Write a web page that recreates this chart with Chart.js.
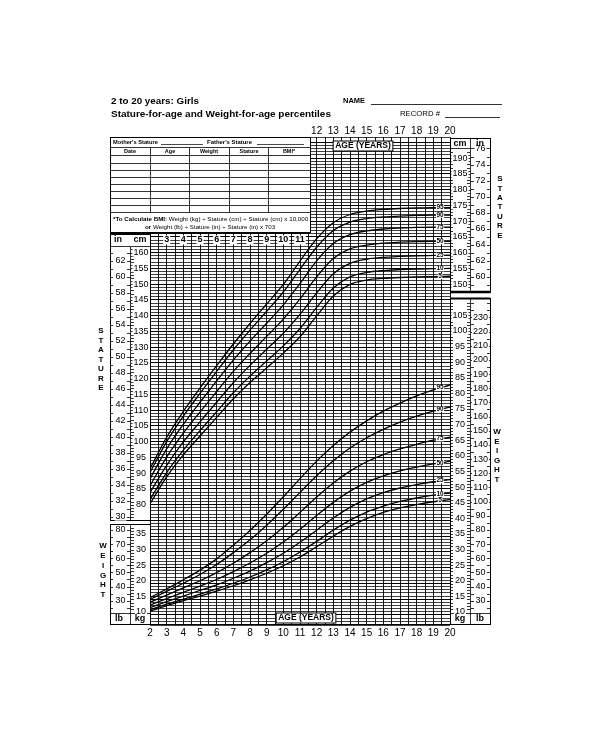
<!DOCTYPE html>
<html>
<head>
<meta charset="utf-8">
<title>2 to 20 years: Girls - Stature-for-age and Weight-for-age percentiles</title>
<script src="https://cdn.jsdelivr.net/npm/chart.js@4.4.1/dist/chart.umd.min.js"></script>
<style>
  html, body { margin: 0; padding: 0; background: #fff; }
  canvas { display: block; }
</style>
</head>
<body>
<canvas id="growthChart" width="600" height="730"></canvas>
<script>
const ages = [2, 3, 4, 5, 6, 7, 8, 9, 10, 11, 12, 13, 14, 15, 16, 17, 18, 19, 20];
const percentileLabels = ['5', '10', '25', '50', '75', '90', '95'];

// stature (cm)
const statureP5  = [80.3, 88.8, 95.8, 101.8, 107.7, 113.6, 118.8, 123.4, 128.1, 133.3, 139.9, 146.2, 149.9, 151.3, 151.8, 152.1, 152.3, 152.4, 152.5];
const statureP10 = [81.6, 90.2, 97.3, 103.5, 109.5, 115.5, 120.8, 125.6, 130.4, 135.9, 142.6, 148.8, 152.3, 153.7, 154.3, 154.6, 154.8, 154.9, 155.0];
const statureP25 = [83.8, 92.5, 99.9, 106.3, 112.5, 118.7, 124.2, 129.3, 134.4, 140.4, 147.2, 153.3, 156.6, 157.9, 158.5, 158.8, 159.0, 159.1, 159.2];
const statureP50 = [86.0, 95.1, 102.7, 109.4, 115.9, 122.3, 128.0, 133.4, 138.9, 145.3, 152.3, 158.1, 161.2, 162.4, 163.0, 163.3, 163.5, 163.6, 163.6];
const statureP75 = [88.2, 97.7, 105.5, 112.5, 119.3, 125.9, 131.9, 137.6, 143.4, 150.2, 157.4, 162.9, 165.7, 166.9, 167.5, 167.8, 168.0, 168.1, 168.1];
const statureP90 = [90.2, 100.0, 108.1, 115.3, 122.3, 129.1, 135.4, 141.4, 147.5, 154.7, 161.7, 167.0, 169.7, 170.8, 171.3, 171.6, 171.8, 171.9, 171.9];
const statureP95 = [91.4, 101.4, 109.6, 117.0, 124.1, 131.0, 137.5, 143.7, 149.9, 157.3, 164.4, 169.5, 172.1, 173.2, 173.7, 174.0, 174.2, 174.3, 174.3];

// weight (kg)
const weightP5  = [10.3, 12.0, 13.6, 15.1, 16.7, 18.4, 20.3, 22.4, 24.8, 27.6, 30.9, 34.3, 37.4, 39.9, 41.9, 43.3, 44.4, 45.3, 46.0];
const weightP10 = [10.7, 12.5, 14.1, 15.7, 17.4, 19.2, 21.2, 23.5, 26.1, 29.2, 32.6, 36.2, 39.4, 42.0, 43.9, 45.4, 46.5, 47.4, 48.1];
const weightP25 = [11.4, 13.3, 15.1, 16.9, 18.7, 20.8, 23.1, 25.8, 28.8, 32.3, 36.2, 40.1, 43.5, 46.2, 48.2, 49.7, 50.8, 51.7, 52.4];
const weightP50 = [12.2, 14.3, 16.3, 18.3, 20.4, 22.9, 25.7, 28.8, 32.4, 36.5, 40.9, 45.1, 48.7, 51.5, 53.6, 55.2, 56.4, 57.4, 58.2];
const weightP75 = [13.1, 15.4, 17.7, 20.0, 22.6, 25.6, 29.0, 32.8, 37.1, 41.9, 46.8, 51.3, 55.1, 58.1, 60.4, 62.2, 63.7, 65.0, 66.0];
const weightP90 = [14.0, 16.6, 19.2, 22.0, 25.2, 29.0, 33.1, 37.8, 42.9, 48.3, 53.6, 58.4, 62.5, 65.8, 68.5, 70.8, 72.7, 74.3, 75.6];
const weightP95 = [14.6, 17.4, 20.3, 23.4, 27.0, 31.4, 36.1, 41.3, 46.9, 52.7, 58.3, 63.3, 67.6, 71.2, 74.3, 76.9, 79.2, 81.1, 82.7];

// tick labels
const topAgeLabels = [12, 13, 14, 15, 16, 17, 18, 19, 20];
const innerAgeLabels = [3, 4, 5, 6, 7, 8, 9, 10, 11];
const leftStatureCm = [80, 85, 90, 95, 100, 105, 110, 115, 120, 125, 130, 135, 140, 145, 150, 155, 160];
const leftStatureIn = [30, 32, 34, 36, 38, 40, 42, 44, 46, 48, 50, 52, 54, 56, 58, 60, 62];
const leftWeightKg = [10, 15, 20, 25, 30, 35];
const leftWeightLb = [30, 40, 50, 60, 70, 80];
const rightStatureCm = [150, 155, 160, 165, 170, 175, 180, 185, 190];
const rightStatureIn = [60, 62, 64, 66, 68, 70, 72, 74, 76];
const rightWeightKg = [10, 15, 20, 25, 30, 35, 40, 45, 50, 55, 60, 65, 70, 75, 80, 85, 90, 95, 100, 105];
const rightWeightLb = [30, 40, 50, 60, 70, 80, 90, 100, 110, 120, 130, 140, 150, 160, 170, 180, 190, 200, 210, 220, 230];

const statureSeries = [statureP5, statureP10, statureP25, statureP50, statureP75, statureP90, statureP95];
const weightSeries = [weightP5, weightP10, weightP25, weightP50, weightP75, weightP90, weightP95];

const FONT = '"Liberation Sans", Arial, Helvetica, sans-serif';
const font = (size, bold) => (bold ? 'bold ' : '') + size + 'px ' + FONT;

function fitFont(ctx, s, bold, w) {
  ctx.font = font(10, bold);
  return font((10 * w / ctx.measureText(s).width).toFixed(2), bold);
}

function text(ctx, s, x, y, f, align) {
  ctx.font = f;
  ctx.textAlign = align || 'center';
  ctx.textBaseline = 'middle';
  ctx.fillStyle = '#000';
  ctx.fillText(s, x, y);
}

function boxedText(ctx, s, x, y, f, pad, h) {
  ctx.font = f;
  const w = ctx.measureText(s).width;
  ctx.fillStyle = '#fff';
  ctx.fillRect(x - w / 2 - pad, y - h / 2, w + 2 * pad, h);
  text(ctx, s, x, y, f);
}

function hline(ctx, x0, x1, y, lw) {
  ctx.lineWidth = lw;
  ctx.beginPath();
  ctx.moveTo(x0, y);
  ctx.lineTo(x1, y);
  ctx.stroke();
}

function vline(ctx, x, y0, y1, lw) {
  ctx.lineWidth = lw;
  ctx.beginPath();
  ctx.moveTo(x, y0);
  ctx.lineTo(x, y1);
  ctx.stroke();
}

function dashes(ctx, scale, from, to, step, x0, x1, yTop, yBot) {
  ctx.lineWidth = 0.8;
  ctx.beginPath();
  for (let v = from; v <= to; v += step) {
    const y = Math.round(scale.getPixelForValue(v)) + 0.5;
    if (y < yTop || y > yBot) continue;
    ctx.moveTo(x0, y);
    ctx.lineTo(x1, y);
  }
  ctx.stroke();
}

function scaleLabels(ctx, scale, vals, x, f) {
  vals.forEach(v => boxedText(ctx, String(v), x, scale.getPixelForValue(v), f, 1, 8));
}

function column(ctx, x0, x1, y0, y1) {
  ctx.fillStyle = '#fff';
  ctx.fillRect(x0, y0, x1 - x0, y1 - y0);
  ctx.lineWidth = 1;
  ctx.strokeRect(x0 + 0.5, y0 + 0.5, x1 - x0, y1 - y0);
}

function verticalWord(ctx, word, x, y0, step) {
  [...word].forEach((c, i) => text(ctx, c, x, y0 + i * step, font(8, true)));
}

const decor = {
  id: 'decor',
  beforeDraw(chart) {
    const ctx = chart.ctx;
    ctx.save();
    ctx.fillStyle = '#fff';
    ctx.fillRect(0, 0, chart.width, chart.height);
    ctx.restore();
  },
  afterDatasetsDraw(chart) {
    const ctx = chart.ctx;
    const sx = chart.scales.x, cm = chart.scales.yCm, kg = chart.scales.yKg;
    const inch = chart.scales.yIn, lb = chart.scales.yLb;
    ctx.save();
    ctx.strokeStyle = '#000';
    ctx.fillStyle = '#000';

    // percentile labels at the right end of the curves
    const lx = sx.getPixelForValue(19.4);
    statureSeries.forEach((s, i) => boxedText(ctx, percentileLabels[i], lx, cm.getPixelForValue((s[17] + s[18]) / 2), font(6.5, true), 0.5, 5.5));
    weightSeries.forEach((s, i) => boxedText(ctx, percentileLabels[i], lx, kg.getPixelForValue((s[17] + s[18]) / 2), font(6.5, true), 0.5, 5.5));

    // titles
    text(ctx, '2 to 20 years: Girls', 111, 101, fitFont(ctx, '2 to 20 years: Girls', true, 88), 'left');
    const t2 = 'Stature-for-age and Weight-for-age percentiles';
    text(ctx, t2, 111, 114, fitFont(ctx, t2, true, 220), 'left');
    text(ctx, 'NAME', 343, 101, fitFont(ctx, 'NAME', true, 22), 'left');
    hline(ctx, 371, 502, 104.5, 0.8);
    text(ctx, 'RECORD #', 400, 114, fitFont(ctx, 'RECORD #', false, 40), 'left');
    hline(ctx, 445, 500, 117.5, 0.8);

    // record table
    const tx0 = 110, tx1 = 310, ty0 = 137, ty1 = 232;
    ctx.fillStyle = '#fff';
    ctx.fillRect(tx0, ty0, tx1 - tx0, ty1 - ty0);
    ctx.lineWidth = 1;
    ctx.strokeRect(tx0 + 0.5, ty0 + 0.5, tx1 - tx0, ty1 - ty0);
    text(ctx, "Mother's Stature", 113, 142.5, fitFont(ctx, "Mother's Stature", true, 45), 'left');
    hline(ctx, 161, 203, 144.5, 0.7);
    text(ctx, "Father's Stature", 207, 142.5, fitFont(ctx, "Father's Stature", true, 45), 'left');
    hline(ctx, 257, 304, 144.5, 0.7);
    hline(ctx, tx0, tx1, 147.5, 0.8);
    const rowLines = [155.5, 163.5, 170.5, 177.5, 184.5, 191.5, 198.5, 205.5, 212.5];
    rowLines.forEach(y => hline(ctx, tx0, tx1, y, 0.8));
    [150.5, 189.5, 229.5, 268.5].forEach(x => vline(ctx, x, 147.5, 212.5, 0.8));
    const heads = [['Date', 130], ['Age', 170], ['Weight', 209], ['Stature', 249], ['BMI*', 289]];
    heads.forEach(([h, x]) => text(ctx, h, x, 151.5, font(5.5, true)));
    const n1a = '*To Calculate BMI:', n1b = ' Weight (kg) \u00f7 Stature (cm) \u00f7 Stature (cm) x 10,000';
    ctx.font = font(5.6, true); const w1a = ctx.measureText(n1a).width;
    ctx.font = font(5.6, false); const w1b = ctx.measureText(n1b).width;
    const s1 = 195 / (w1a + w1b);
    const nf1 = font((5.6 * s1).toFixed(2), false), nfb1 = font((5.6 * s1).toFixed(2), true);
    text(ctx, n1a, 113, 219.5, nfb1, 'left');
    text(ctx, n1b, 113 + w1a * s1, 219.5, nf1, 'left');
    text(ctx, 'or', 145, 227, nfb1, 'left');
    ctx.font = nfb1;
    text(ctx, ' Weight (lb) \u00f7 Stature (in) \u00f7 Stature (in) x 703', 145 + ctx.measureText('or').width, 227, nf1, 'left');

    // inner age row under the table
    hline(ctx, 110, 310, 233.5, 1.2);
    innerAgeLabels.forEach(a => boxedText(ctx, String(a), sx.getPixelForValue(a), 240, font(9, true), 1, 9));

    // left stature column
    column(ctx, 110, 150, 234, 520);
    vline(ctx, 130.5, 247, 520, 0.8);
    hline(ctx, 110, 150, 246.5, 0.8);
    text(ctx, 'in', 118, 240, font(9, true));
    text(ctx, 'cm', 140, 240, font(9, true));
    dashes(ctx, cm, 76, 165, 1, 131, 134, 248, 518);
    dashes(ctx, inch, 30, 64, 1, 110, 113, 248, 518);
    dashes(ctx, inch, 30, 64, 1, 127, 131, 248, 518);
    scaleLabels(ctx, inch, leftStatureIn, 120.5, font(9, false));
    scaleLabels(ctx, cm, leftStatureCm, 141, font(9, false));

    // left weight column
    column(ctx, 110, 150, 524, 624);
    vline(ctx, 130.5, 524, 624, 0.8);
    hline(ctx, 110, 150, 613.5, 0.8);
    dashes(ctx, kg, 8, 38, 1, 131, 134, 526, 612);
    dashes(ctx, lb, 20, 85, 5, 110, 113, 526, 612);
    dashes(ctx, lb, 20, 85, 5, 127, 131, 526, 612);
    scaleLabels(ctx, lb, leftWeightLb, 120.5, font(9, false));
    scaleLabels(ctx, kg, leftWeightKg, 141, font(9, false));
    text(ctx, 'lb', 119, 619, font(9, true));
    text(ctx, 'kg', 140, 619, font(9, true));

    // right stature column
    column(ctx, 450, 490, 138, 292);
    vline(ctx, 470.5, 138, 292, 0.8);
    hline(ctx, 450, 490, 148.5, 0.8);
    hline(ctx, 450, 490, 292, 2.5);
    dashes(ctx, cm, 148, 196, 1, 450, 453, 150, 290);
    dashes(ctx, cm, 148, 196, 1, 467, 470, 150, 290);
    dashes(ctx, inch, 58, 77, 1, 471, 474, 150, 290);
    dashes(ctx, inch, 58, 77, 1, 487, 490, 150, 290);
    scaleLabels(ctx, cm, rightStatureCm, 460, font(9, false));
    scaleLabels(ctx, inch, rightStatureIn, 480.5, font(9, false));
    text(ctx, 'cm', 460, 143.5, font(9, true));
    text(ctx, 'in', 480, 143.5, font(9, true));

    // right weight column
    column(ctx, 450, 490, 298, 624);
    hline(ctx, 450, 490, 298.5, 2);
    vline(ctx, 470.5, 298, 624, 0.8);
    hline(ctx, 450, 490, 613.5, 0.8);
    dashes(ctx, kg, 8, 110, 1, 450, 453, 302, 612);
    dashes(ctx, kg, 8, 110, 1, 467, 470, 302, 612);
    dashes(ctx, lb, 20, 240, 5, 471, 474, 302, 612);
    dashes(ctx, lb, 20, 240, 5, 487, 490, 302, 612);
    scaleLabels(ctx, kg, rightWeightKg, 460, font(9, false));
    scaleLabels(ctx, lb, rightWeightLb, 480.5, font(9, false));
    text(ctx, 'kg', 460, 619, font(9, true));
    text(ctx, 'lb', 480, 619, font(9, true));

    // AGE (YEARS) boxes
    [[363, 146], [306, 618]].forEach(([x, y]) => {
      ctx.font = font(8.5, true);
      const w = ctx.measureText('AGE (YEARS)').width;
      ctx.fillStyle = '#fff';
      ctx.fillRect(x - w / 2 - 2, y - 5, w + 4, 10);
      ctx.lineWidth = 1;
      ctx.strokeRect(x - w / 2 - 2, y - 5, w + 4, 10);
      text(ctx, 'AGE (YEARS)', x, y, font(8.5, true));
    });

    // outer bottom border
    hline(ctx, 110, 490, 624.5, 1);

    // vertical axis words
    verticalWord(ctx, 'STATURE', 500, 179, 9.4);
    verticalWord(ctx, 'STATURE', 101, 331, 9.5);
    verticalWord(ctx, 'WEIGHT', 497, 432, 9.5);
    verticalWord(ctx, 'WEIGHT', 103, 546, 9.8);

    ctx.restore();
  }
};

const toPoints = vals => ages.map((a, i) => ({ x: a, y: vals[i] }));
const curveStyle = { borderColor: '#000', borderWidth: 1.3, pointRadius: 0, fill: false, cubicInterpolationMode: 'monotone' };

const growthChart = new Chart(document.getElementById('growthChart'), {
  type: 'line',
  data: {
    datasets: [
      ...statureSeries.map((s, i) => ({ label: 'Stature ' + percentileLabels[i], data: toPoints(s), yAxisID: 'yCm', ...curveStyle })),
      ...weightSeries.map((s, i) => ({ label: 'Weight ' + percentileLabels[i], data: toPoints(s), yAxisID: 'yKg', ...curveStyle }))
    ]
  },
  options: {
    responsive: false,
    animation: false,
    devicePixelRatio: 1,
    layout: { padding: { left: 150, right: 150, top: 124, bottom: 91 } },
    plugins: { legend: { display: false }, tooltip: { enabled: false } },
    scales: {
      x: {
        type: 'linear', position: 'bottom', min: 2, max: 20,
        afterFit: s => { s.height = 14; },
        border: { display: false },
        grid: { color: '#000', lineWidth: 0.9, drawTicks: false },
        ticks: {
          stepSize: 0.5, autoSkip: false, maxRotation: 0, padding: 2, color: '#000',
          font: { family: FONT, size: 10 },
          callback: v => Number.isInteger(v) ? String(v) : ''
        }
      },
      xTop: {
        type: 'linear', position: 'top', min: 2, max: 20,
        afterFit: s => { s.height = 13; },
        border: { display: false },
        grid: { display: false, drawTicks: false },
        ticks: {
          stepSize: 1, autoSkip: false, maxRotation: 0, padding: 0, color: '#000',
          font: { family: FONT, size: 10 },
          callback: v => topAgeLabels.includes(v) ? String(v) : ''
        }
      },
      yCm: {
        type: 'linear', position: 'left', min: 41.8, max: 196.7,
        afterFit: s => { s.width = 0; },
        border: { display: false },
        grid: { color: '#000', lineWidth: c => (c.tick && c.tick.value % 5 === 0) ? 1.1 : 0.75, drawTicks: false },
        ticks: { display: false, stepSize: 1 }
      },
      yKg: { type: 'linear', display: false, min: 5.83, max: 162.1 },
      yIn: { type: 'linear', display: false, min: 41.8 / 2.54, max: 196.7 / 2.54 },
      yLb: { type: 'linear', display: false, min: 5.83 * 2.20462, max: 162.1 * 2.20462 }
    }
  },
  plugins: [decor]
});
</script>
</body>
</html>
